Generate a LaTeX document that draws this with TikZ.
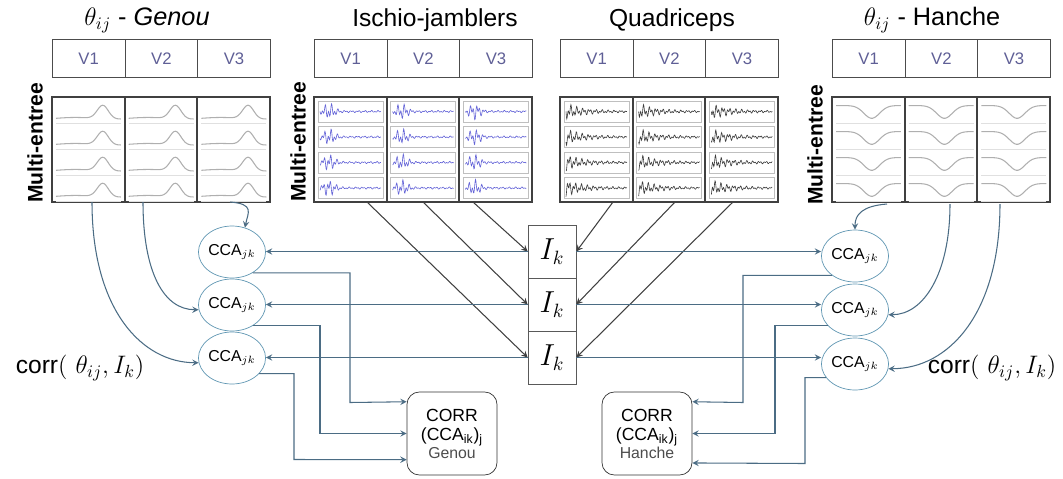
\documentclass[tikz,border=0pt]{standalone}
\usepackage{fontspec}
\setsansfont{Liberation Sans}
\usetikzlibrary{arrows.meta,shapes.geometric,positioning}
\definecolor{lien}{RGB}{75,108,132}
\definecolor{ovale}{RGB}{95,150,178}
\definecolor{vtxt}{RGB}{95,95,150}
\definecolor{trace}{RGB}{175,175,175}
\definecolor{emgb}{RGB}{60,60,205}
\definecolor{emgg}{RGB}{60,60,60}
\tikzset{
  titre/.style={font=\sffamily\fontsize{14}{16}\selectfont},
  entete/.style={draw=black!70,minimum width=1.453cm,minimum height=0.76cm,inner sep=0,
    text=vtxt,font=\sffamily\fontsize{9.5}{11}\selectfont},
  cadre/.style={draw=black!75,line width=1pt},
  multi/.style={rotate=90,font=\sffamily\bfseries\fontsize{12}{14}\selectfont},
  grille/.style={draw=black!12,line width=.4pt},
  courbe/.style={draw=trace,line width=.6pt},
  petit/.style={draw=black!25,line width=.4pt},
  cca/.style={ellipse,draw=ovale,minimum width=1.34cm,minimum height=1.04cm,inner sep=0,
    font=\sffamily\fontsize{9}{11}\selectfont},
  ik/.style={draw=black!65,minimum width=0.96cm,minimum height=1.06cm,inner sep=0,
    font=\fontsize{16}{18}\selectfont},
  corr/.style={draw=black!80,rounded corners=7pt,minimum width=1.8cm,minimum height=1.66cm,
    align=center,inner sep=1pt,font=\sffamily\fontsize{10}{11}\selectfont},
  fil/.style={lien,line width=.6pt},
  diag/.style={black!75,line width=.6pt},
  lab/.style={font=\fontsize{14}{16}\selectfont}
}
\begin{document}
\begin{tikzpicture}[>=stealth,x=0.02cm,y=-0.02cm]
\useasboundingbox (0,0) rectangle (1063,478);
% les quatre tableaux
\foreach \px/\tx/\nom/\titre in {52/147/gen/{\Large$\theta_{ij}$ - \textit{Genou}},
    314/435/isc/Ischio-jamblers,560/672/qua/Quadriceps,832/932/han/{\Large$\theta_{ij}$ - Hanche}}{
  \node[titre] (\nom-t) at (\tx,20) {\titre};
  \foreach \c/\n in {0/1,1/2,2/3}
    \node[entete,anchor=north west] (\nom-v\n) at (\px+\c*72.67,39) {V\n};
  \draw[cadre] (\px,97) rectangle ++(218,105);
  \draw[cadre] (\px+72.67,97) -- ++(0,105) (\px+145.33,97) -- ++(0,105);
}
\node[multi] (gen-m) at (35,143) {Multi-entree};
\node[multi] (isc-m) at (298,142) {Multi-entree};
\node[multi] (han-m) at (815,145) {Multi-entree};
% angles
\foreach \c in {0,1,2}
  \foreach \r in {0,1,2,3}{
    \pgfmathsetmacro\xg{52+\c*72.67+4}
    \pgfmathsetmacro\xh{832+\c*72.67+4}
    \pgfmathsetmacro\yo{97+\r*26+23}
    \draw[grille] (\xg,\yo+3) -- ++(65,0) (\xh,\yo+3) -- ++(65,0);
    \draw[courbe] plot[domain=0:1,samples=40,smooth]
      ({\xg+65*\x},{\yo-17*(0.1+0.8*exp(-((\x-0.72)/0.12)^2)+0.05*sin(\x*300))});
    \draw[courbe] plot[domain=0:1,samples=40,smooth]
      ({\xh+65*\x},{\yo-17*(0.85-0.75*exp(-((\x-0.55)/0.17)^2))});
  }
% EMG
\foreach \c in {0,1,2}
  \foreach \r in {0,1,2,3}{
    \pgfmathsetmacro\xi{314+\c*72.67+4}
    \pgfmathsetmacro\xq{560+\c*72.67+4}
    \pgfmathsetmacro\yo{97+4+\r*25.5}
    \draw[petit] (\xi,\yo) rectangle ++(65,21) (\xq,\yo) rectangle ++(65,21);
    \draw[emgb!80,line width=.35pt] plot[domain=0:1,samples=150]
      ({\xi+2+61*\x},{\yo+10.5+9*(0.12+0.85*exp(-((\x-0.15)/0.12)^2))*sin(5200*\x+40*\r)*cos(1900*\x+25*\c)});
    \draw[emgg,line width=.35pt] plot[domain=0:1,samples=150]
      ({\xq+2+61*\x},{\yo+10.5+9*(0.1+0.9*exp(-3.5*\x))*sin(5600*\x+35*\r)*cos(2100*\x+20*\c)});
  }
% points de depart
\coordinate (gb1) at (92,202);  \coordinate (gb2) at (143,202); \coordinate (gb3) at (230,202);
\coordinate (ib1) at (367,202); \coordinate (ib2) at (423,202); \coordinate (ib3) at (473,202);
\coordinate (qb1) at (613,202); \coordinate (qb2) at (675,202); \coordinate (qb3) at (733,202);
\coordinate (hb1) at (887,204); \coordinate (hb2) at (950,204); \coordinate (hb3) at (1000,204);
% noeuds
\node[ik] (ik1) at (552,251.5) {$I_k$};
\node[ik] (ik2) at (552,304.5) {$I_k$};
\node[ik] (ik3) at (552,357.5) {$I_k$};
\foreach \i/\y in {1/252,2/305,3/358}
  \node[cca] (cg\i) at (232,\y) {CCA$_{jk}$};
\foreach \i/\y in {1/256,2/310,3/364}
  \node[cca] (cd\i) at (855,\y) {CCA$_{jk}$};
\node[corr] (corrg) at (452,433.5) {CORR\\(CCA\textsubscript{ik})\textsubscript{j}\\[-1pt]{\small\color{black!70}Genou}};
\node[corr] (corrd) at (647,433.5) {CORR\\(CCA\textsubscript{ik})\textsubscript{j}\\[-1pt]{\small\color{black!70}Hanche}};
\node[lab] (lg) at (80,368) {\textsf{corr}( $\theta_{ij}, I_k$)};
\node[lab] (ld) at (992,368) {\textsf{corr}( $\theta_{ij}, I_k$)};
% EMG vers I_k
\draw[diag,->] (ib1) -- (ik3.west);
\draw[diag,->] (ib2) -- (ik2.west);
\draw[diag,->] (ib3) -- (ik1.west);
\draw[diag,->] (qb1) -- (ik1.east);
\draw[diag,->] (qb2) -- (ik2.east);
\draw[diag,->] (qb3) -- (ik3.east);
% I_k vers CCA
\foreach \i in {1,2,3}{
  \draw[fil,->] (ik\i.west) -- (ik\i.west -| cg\i.east);
  \draw[fil,->] (ik\i.east) -- (ik\i.east -| cd\i.west);
}
% angles vers CCA
\draw[fil,->] (gb3) .. controls +(25,2) and +(3,-15) .. (cg1.62);
\draw[fil,->] (gb2) .. controls +(0,70) and +(-35,0) .. (cg2.188);
\draw[fil,->] (gb1) .. controls +(0,110) and +(-55,0) .. (cg3.188);
\draw[fil,->] (hb1) .. controls +(-25,2) and +(0,-15) .. (cd1.north);
\draw[fil,->] (hb2) .. controls +(0,70) and +(35,0) .. (cd2.-8);
\draw[fil,->] (hb3) .. controls +(0,110) and +(60,0) .. (cd3.-8);
% CCA vers CORR
\coordinate (kg1) at (350,402.5); \coordinate (kg2) at (320,433.5); \coordinate (kg3) at (294,459.5);
\coordinate (kd1) at (743,402.5); \coordinate (kd2) at (775,433.5); \coordinate (kd3) at (805,463.5);
\draw[fil,->] (cg1.-45) -| (kg1) -- (corrg.145);
\draw[fil,->] (cg2.-45) -| (kg2) -- (corrg.west);
\draw[fil,->] (cg3.-30) -| (kg3) -- (corrg.210);
\draw[fil,->] (cd1.-140) -| (kd1) -- (corrd.35);
\draw[fil,->] (cd2.-150) -| (kd2) -- (corrd.east);
\draw[fil,->] (cd3.-155) -| (kd3) -- (corrd.-33);
\end{tikzpicture}
\end{document}
